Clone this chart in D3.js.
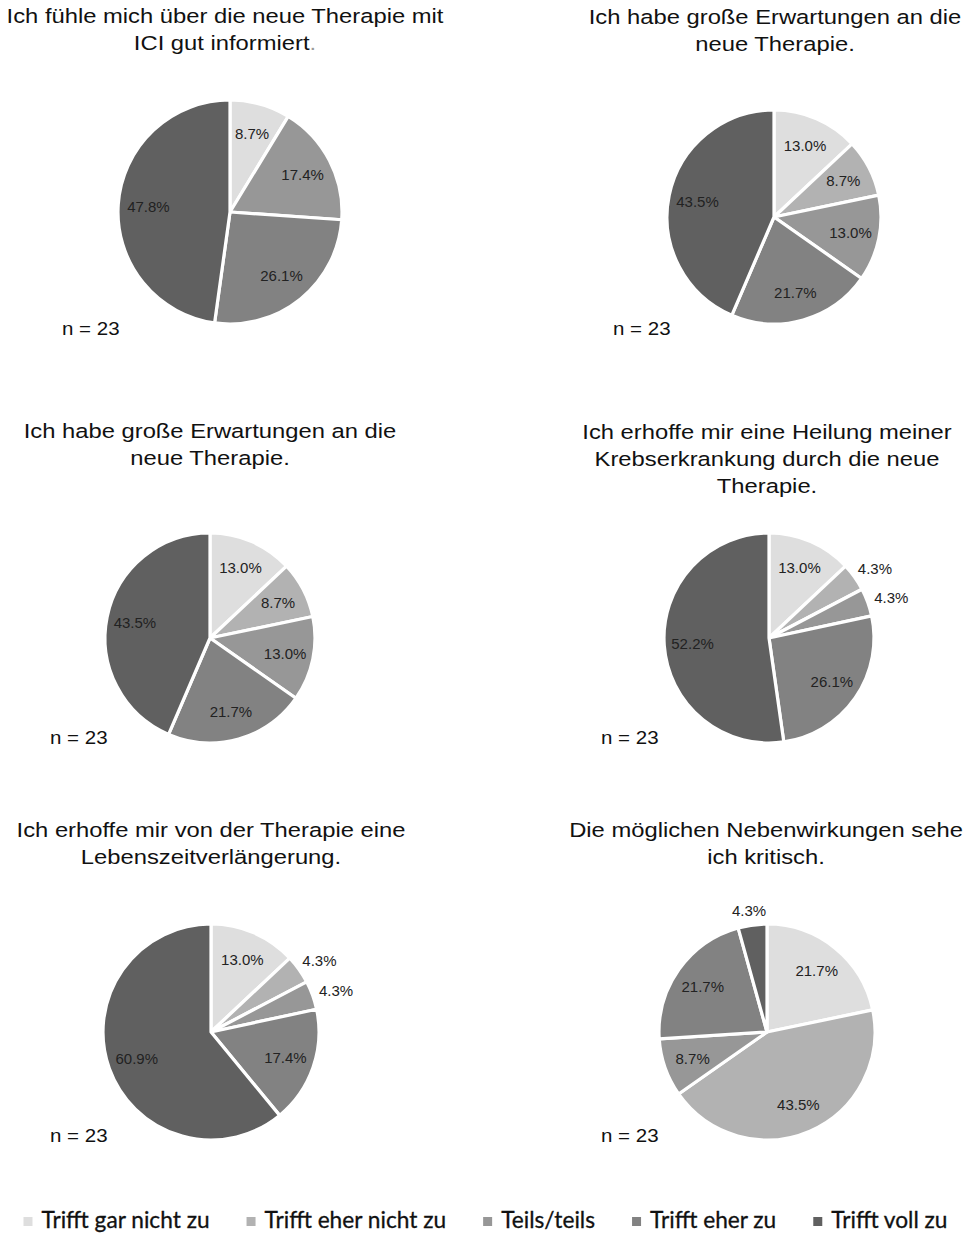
<!DOCTYPE html>
<html lang="de">
<head>
<meta charset="utf-8">
<title>Einstellungen zur Therapie mit ICI</title>
<script src="https://cdn.jsdelivr.net/npm/d3@7"></script>
<style>
  html, body { margin: 0; padding: 0; background: #fff; }
  svg { display: block; }
  .title { font-family: "Liberation Sans", Arial, sans-serif; font-size: 20.5px; fill: #111; }
  .nlabel { font-family: "Liberation Sans", Arial, sans-serif; font-size: 18px; fill: #111; }
  .pct { font-family: "Liberation Sans", Arial, sans-serif; font-size: 15px; fill: #222; }
  .legend text { font-family: Lato, "Open Sans", sans-serif; font-size: 22.7px; fill: #111; stroke: #111; stroke-width: 0.3px; }
</style>
</head>
<body>
<svg id="chart" width="965" height="1234"></svg>
<script>
// Answer categories (shared by all six items)
const categories = ["Trifft gar nicht zu", "Trifft eher nicht zu", "Teils/teils", "Trifft eher zu", "Trifft voll zu"];
const categoryColors = ["#dedede", "#b2b2b2", "#979797", "#828282", "#606060"];

// Item statements (one per pie, split into lines)
const titles = [
  ["Ich fühle mich über die neue Therapie mit", "ICI gut informiert."],
  ["Ich habe große Erwartungen an die", "neue Therapie."],
  ["Ich habe große Erwartungen an die", "neue Therapie."],
  ["Ich erhoffe mir eine Heilung meiner", "Krebserkrankung durch die neue", "Therapie."],
  ["Ich erhoffe mir von der Therapie eine", "Lebenszeitverlängerung."],
  ["Die möglichen Nebenwirkungen sehe", "ich kritisch."]
];

// Shares in percent, in category order
const informiert     = [8.7, 0, 17.4, 26.1, 47.8];
const erwartungen1   = [13.0, 8.7, 13.0, 21.7, 43.5];
const erwartungen2   = [13.0, 8.7, 13.0, 21.7, 43.5];
const heilung        = [13.0, 4.3, 4.3, 26.1, 52.2];
const lebenszeit     = [13.0, 4.3, 4.3, 17.4, 60.9];
const nebenwirkungen = [21.7, 43.5, 8.7, 21.7, 4.3];
const seriesList = [informiert, erwartungen1, erwartungen2, heilung, lebenszeit, nebenwirkungen];

// Respondents per item
const sampleSizes = [23, 23, 23, 23, 23, 23];

// Panel geometry: pie centre/radius, title centre and first baseline, n-label anchor
const panels = [
  { cx: 230, cy: 212, r: 112, tx: 225, ty: 23,  nx: 62,  ny: 335 },
  { cx: 774, cy: 217, r: 107, tx: 775, ty: 24,  nx: 613, ny: 335 },
  { cx: 210, cy: 638, r: 105, tx: 210, ty: 438, nx: 50,  ny: 744 },
  { cx: 769, cy: 638, r: 105, tx: 767, ty: 439, nx: 601, ny: 744 },
  { cx: 211, cy: 1032, r: 108, tx: 211, ty: 837, nx: 50, ny: 1142 },
  { cx: 767, cy: 1032, r: 108, tx: 766, ty: 837, nx: 601, ny: 1142 }
];

// the statement text is set slightly widened
const titleStretch = 1.16;
const nStretch = 1.14;

const svg = d3.select("#chart");
const color = d3.scaleOrdinal().domain(categories).range(categoryColors);
const pie = d3.pie().sort(null).value(d => d.value);
const fmt = v => v.toFixed(1) + "%";

seriesList.forEach((series, i) => {
  const p = panels[i];
  const g = svg.append("g");

  // statement title, one text element per line
  titles[i].forEach((line, j) => {
    const t = g.append("text").attr("class", "title")
      .attr("text-anchor", "middle")
      .attr("transform", `translate(${p.tx},${p.ty + j * 27}) scale(${titleStretch},1)`);
    if (i === 0 && j === 1) {
      t.append("tspan").text(line.slice(0, -1));
      t.append("tspan").attr("fill", "#9a9a9a").text(".");
    } else {
      t.text(line);
    }
  });

  const data = series.map((v, k) => ({ category: categories[k], value: v }));
  const arcs = pie(data).filter(a => a.data.value > 0);
  const arc = d3.arc().innerRadius(0).outerRadius(p.r);

  const pg = g.append("g").attr("transform", `translate(${p.cx},${p.cy})`);
  pg.selectAll("path")
    .data(arcs)
    .join("path")
    .attr("d", arc)
    .attr("fill", d => color(d.data.category))
    .attr("stroke", "#fff")
    .attr("stroke-width", 3.2)
    .attr("stroke-linejoin", "round");

  // value labels: inside for larger slices, just outside the rim for small ones
  pg.selectAll("text.pct")
    .data(arcs)
    .join("text")
    .attr("class", "pct")
    .attr("text-anchor", "middle")
    .attr("dominant-baseline", "central")
    .each(function (d) {
      const mid = (d.startAngle + d.endAngle) / 2;
      const ux = Math.sin(mid), uy = -Math.cos(mid);
      let x, y;
      if (d.data.value < 5) {
        const rr = p.r + 8;
        x = ux * rr + ux * 17;
        y = uy * rr + uy * 7;
      } else {
        const rr = p.r * 0.73;
        x = ux * rr;
        y = uy * rr;
      }
      d3.select(this).attr("x", x).attr("y", y).text(fmt(d.data.value));
    });

  g.append("text").attr("class", "nlabel")
    .attr("transform", `translate(${p.nx},${p.ny}) scale(${nStretch},1)`)
    .text("n = " + sampleSizes[i]);
});

// legend along the bottom
const legend = svg.append("g").attr("class", "legend");
const items = legend.selectAll("g").data(categories).join("g");
items.append("rect").attr("width", 9).attr("height", 9).attr("y", -11)
  .attr("fill", d => color(d));
items.append("text").attr("x", 18).attr("y", 0).text(d => d);
const widths = items.nodes().map(n => n.getBBox().width);
const gap = 37;
const total = d3.sum(widths) + gap * (widths.length - 1);
let xpos = 485.5 - total / 2;
items.attr("transform", (d, k) => {
  const x = xpos;
  xpos += widths[k] + gap;
  return `translate(${x},1228)`;
});
</script>
</body>
</html>
